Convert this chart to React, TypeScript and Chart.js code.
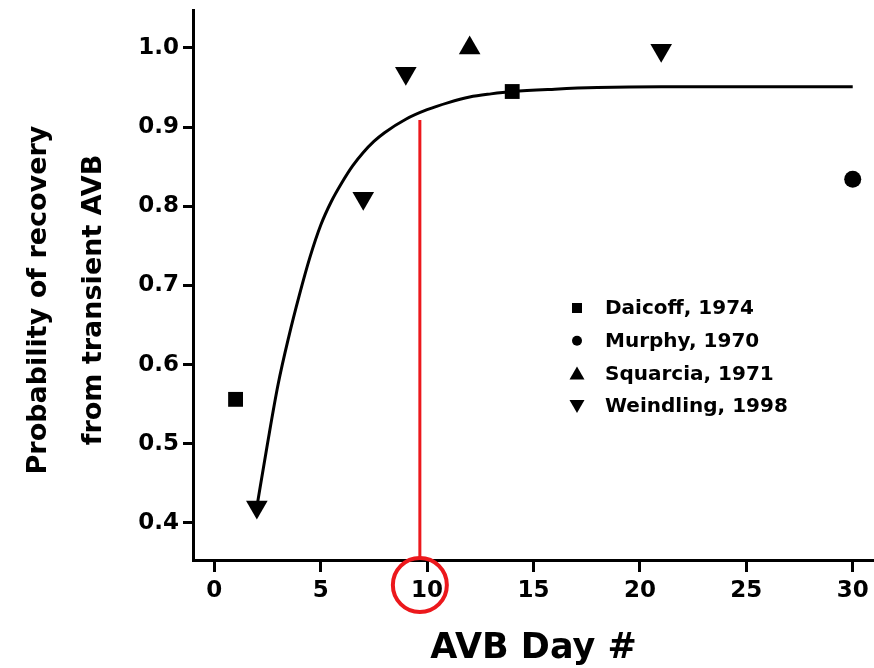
import React, { useEffect, useRef } from "react";
import { Chart, registerables } from "chart.js";

Chart.register(...registerables);

// ---- data ----
const xTicks = [0, 5, 10, 15, 20, 25, 30];
const yTicks = [0.4, 0.5, 0.6, 0.7, 0.8, 0.9, 1.0];
const xLimits = [-1, 31];
const yLimits = [0.353, 1.048];

const seriesNames = ["Daicoff, 1974", "Murphy, 1970", "Squarcia, 1971", "Weindling, 1998"];
const daicoffDays = [1, 14];
const daicoffProb = [0.556, 0.945];
const murphyDays = [30];
const murphyProb = [0.834];
const squarciaDays = [12];
const squarciaProb = [1.0];
const weindlingDays = [2, 7, 9, 21];
const weindlingProb = [0.42, 0.81, 0.968, 0.997];

const fitDays = [2, 2.5, 3, 3.5, 4, 4.5, 5, 5.5, 6, 6.5, 7, 7.5, 8, 9, 10, 11, 12, 13, 14, 16, 18, 21, 25, 30];
const fitProb = [0.42, 0.5, 0.575, 0.635, 0.688, 0.736, 0.776, 0.806, 0.83, 0.851, 0.868, 0.882, 0.893, 0.91, 0.922, 0.931, 0.938, 0.942, 0.945, 0.948, 0.95, 0.951, 0.951, 0.951];

const cutoffDay = 9.66;
const cutoffProb = [0.353, 0.909];
const circleProb = 0.3214;

const xTitle = "AVB Day #";
const yTitle = ["Probability of recovery", "from transient AVB"];

const FONT = "'DejaVu Sans', 'Liberation Sans', Arial, sans-serif";
const RED = "rgb(236,24,28)";

const pts = (xs: number[], ys: number[]) => xs.map((x, i) => ({ x, y: ys[i] }));

const yTitlePlugin = {
  id: "yTitlePlugin",
  afterDraw(chart: any) {
    const ctx = chart.ctx;
    const { top, bottom } = chart.chartArea;
    const cy = (top + bottom) / 2 + 15;
    ctx.save();
    ctx.fillStyle = "#000";
    ctx.font = `bold 27px ${FONT}`;
    ctx.textAlign = "center";
    ctx.textBaseline = "alphabetic";
    const baselines = [46, 101];
    yTitle.forEach((line, i) => {
      ctx.save();
      ctx.translate(baselines[i], cy);
      ctx.rotate(-Math.PI / 2);
      ctx.fillText(line, 0, 0);
      ctx.restore();
    });
    ctx.restore();
  },
};

const legendPlugin = {
  id: "innerLegend",
  afterDraw(chart: any) {
    const ctx = chart.ctx;
    const x0 = 577;
    const tx = 605;
    const y0 = 308;
    const dy = 32.7;
    ctx.save();
    ctx.fillStyle = "#000";
    ctx.font = `bold 20px ${FONT}`;
    ctx.textBaseline = "middle";
    ctx.textAlign = "left";
    seriesNames.forEach((name, i) => {
      const y = y0 + i * dy;
      ctx.beginPath();
      if (i === 0) {
        ctx.rect(x0 - 5, y - 5, 10, 10);
      } else if (i === 1) {
        ctx.arc(x0, y, 5, 0, Math.PI * 2);
      } else if (i === 2) {
        ctx.moveTo(x0, y - 7);
        ctx.lineTo(x0 + 7.5, y + 6);
        ctx.lineTo(x0 - 7.5, y + 6);
        ctx.closePath();
      } else {
        ctx.moveTo(x0 - 7.5, y - 6);
        ctx.lineTo(x0 + 7.5, y - 6);
        ctx.lineTo(x0, y + 7);
        ctx.closePath();
      }
      ctx.fill();
      ctx.fillText(name, tx, y + 1);
    });
    ctx.restore();
  },
};

const zeroPadding = (s: any) => {
  s.paddingLeft = 0;
  s.paddingRight = 0;
  s.paddingTop = 0;
  s.paddingBottom = 0;
};

export default function App() {
  const ref = useRef<HTMLCanvasElement | null>(null);

  useEffect(() => {
    if (!ref.current) return;
    const markerBase = {
      backgroundColor: "#000",
      borderColor: "#000",
      borderWidth: 0,
      showLine: false,
    };
    const chart = new Chart(ref.current, {
      type: "scatter",
      data: {
        datasets: [
          { ...markerBase, label: seriesNames[0], data: pts(daicoffDays, daicoffProb), pointStyle: "rect", pointRadius: 10.5 },
          { ...markerBase, label: seriesNames[1], data: pts(murphyDays, murphyProb), pointStyle: "circle", pointRadius: 8.5 },
          { ...markerBase, label: seriesNames[2], data: pts(squarciaDays, squarciaProb), pointStyle: "triangle", pointRadius: 12.5 },
          { ...markerBase, label: seriesNames[3], data: pts(weindlingDays, weindlingProb), pointStyle: "triangle", pointRotation: 180, pointRadius: 12.5 },
          {
            label: "fit",
            data: pts(fitDays, fitProb),
            showLine: true,
            borderColor: "#000",
            borderWidth: 3,
            pointRadius: 0,
            cubicInterpolationMode: "monotone",
            fill: false,
          },
          {
            label: "cutoff",
            data: pts([cutoffDay, cutoffDay], cutoffProb),
            showLine: true,
            borderColor: RED,
            borderWidth: 3,
            pointRadius: 0,
            clip: false,
          },
          {
            label: "circle",
            data: pts([cutoffDay], [circleProb]),
            pointStyle: "circle",
            pointRadius: 27,
            borderColor: RED,
            borderWidth: 4,
            backgroundColor: "rgba(0,0,0,0)",
            clip: false,
          },
        ] as any,
      },
      options: {
        responsive: false,
        animation: false,
        events: [],
        layout: { autoPadding: false, padding: { top: 10, left: 0, right: 0, bottom: 0 } },
        plugins: {
          legend: { display: false },
          tooltip: { enabled: false },
        },
        scales: {
          x: {
            type: "linear",
            min: xLimits[0],
            max: xLimits[1],
            afterBuildTicks: (s: any) => {
              s.ticks = xTicks.map((v) => ({ value: v }));
            },
            afterFit: (s: any) => {
              s.height = 108;
              zeroPadding(s);
            },
            ticks: {
              color: "#000",
              font: { family: FONT, size: 23, weight: "bold" },
              padding: 5,
              autoSkip: false,
              maxRotation: 0,
              callback: (v: any) => String(v),
            },
            grid: {
              drawOnChartArea: false,
              drawTicks: true,
              tickLength: 12,
              tickWidth: 3,
              lineWidth: 3,
              color: "#000",
            },
            border: { display: true, color: "#000", width: 3 },
            title: {
              display: true,
              text: xTitle,
              color: "#000",
              font: { family: FONT, size: 35, weight: "bold", lineHeight: 1.1 },
              padding: { top: 0, bottom: 0 },
            },
          },
          y: {
            type: "linear",
            min: yLimits[0],
            max: yLimits[1],
            afterBuildTicks: (s: any) => {
              s.ticks = yTicks.map((v) => ({ value: v }));
            },
            afterFit: (s: any) => {
              s.width = 193;
              zeroPadding(s);
            },
            ticks: {
              color: "#000",
              font: { family: FONT, size: 23, weight: "bold" },
              padding: 4,
              autoSkip: false,
              callback: (v: any) => Number(v).toFixed(1),
            },
            grid: {
              drawOnChartArea: false,
              drawTicks: true,
              tickLength: 10,
              tickWidth: 3,
              lineWidth: 3,
              color: "#000",
            },
            border: { display: true, color: "#000", width: 3 },
            title: { display: false },
          },
        },
      } as any,
      plugins: [yTitlePlugin, legendPlugin],
    });
    return () => chart.destroy();
  }, []);

  return (
    <div style={{ position: "absolute", left: 0, top: 0, width: 874, height: 668, background: "#fff" }}>
      <canvas ref={ref} width={874} height={668} style={{ display: "block" }} />
    </div>
  );
}
